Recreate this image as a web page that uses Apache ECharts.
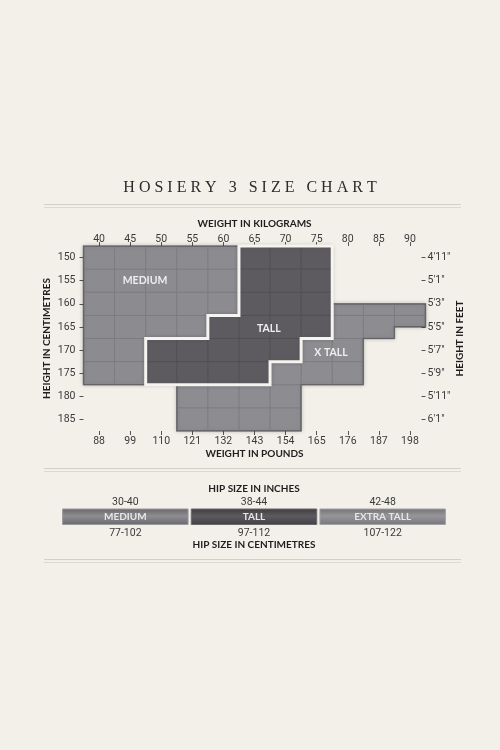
<!DOCTYPE html>
<html><head><meta charset="utf-8">
<script src="https://cdn.jsdelivr.net/npm/echarts@6/dist/echarts.min.js"></script>
<style>html,body{margin:0;padding:0;background:#f3f0ea;} #c{width:500px;height:750px;}</style>
</head><body><div id="c"></div>
<script>
// ---- data ----
const kgTicks = [40,45,50,55,60,65,70,75,80,85,90];
const lbTicks = ['88','99','110','121','132','143','154','165','176','187','198'];
const cmTicks = [150,155,160,165,170,175,180,185];
const ftTicks = ["4'11\"","5'1\"","5'3\"","5'5\"","5'7\"","5'9\"","5'11\"","6'1\""];
// size regions as stacked rows: [cmFrom, cmTo, kgFrom, kgTo]
const mediumRows = [[147.5,162.5,37.5,62.5],[162.5,167.5,37.5,57.5],[167.5,177.5,37.5,47.5]];
const tallRows   = [[147.5,162.5,62.5,77.5],[162.5,167.5,57.5,77.5],[167.5,172.5,47.5,72.5],[172.5,177.5,47.5,67.5]];
const xTallRows  = [[160,165,77.5,92.5],[165,167.5,77.5,87.5],[167.5,172.5,72.5,82.5],[172.5,177.5,67.5,82.5],[177.5,187.5,52.5,72.5]];
const sizeNames = ['MEDIUM','TALL','X TALL'];
const sizeLabelAt = [[47.4,155],[67.3,165.3],[77.3,170.6]]; // [kg, cm]
const hipSizes = ['MEDIUM','TALL','EXTRA TALL'];
const hipInches = ['30-40','38-44','42-48'];
const hipCm = ['77-102','97-112','107-122'];

// ---- styling ----
const shapes = [
  {rows: mediumRows, fill:'#8c8b8f', grid:'#7c7b7f', edge:'rgba(70,70,75,0.45)', white:false},
  {rows: tallRows,   fill:'#5d5b60', grid:'#514f54', edge:'rgba(40,40,45,0.5)', white:true},
  {rows: xTallRows,  fill:'#8d8c90', grid:'#7c7b7f', edge:'rgba(70,70,75,0.45)', white:false}
];
const gridStepsX = []; for (let v = 42.5; v < 92.5; v += 5) gridStepsX.push(v);
const gridStepsY = []; for (let v = 152.5; v < 187.5; v += 5) gridStepsY.push(v);

function rowsPolygon(rows){
  const pts=[];
  rows.forEach(r=>{pts.push([r[3],r[0]],[r[3],r[1]]);});
  for(let i=rows.length-1;i>=0;i--){const r=rows[i]; pts.push([r[2],r[1]],[r[2],r[0]]);}
  return pts;
}

const sansNum = "'Liberation Sans Narrow', 'Roboto', sans-serif";
const sansBold = "'Lato', 'Open Sans', sans-serif";

function renderShape(params, api){
  const idx = api.value(0);
  const s = shapes[idx];
  const poly = rowsPolygon(s.rows).map(p=>api.coord(p));
  const children = [];
  children.push({type:'polygon', shape:{points:poly}, style:{fill:s.fill, stroke:s.edge, lineWidth:1.5, shadowBlur:4, shadowColor:'rgba(0,0,0,0.22)'}});
  const seg = (a,b)=>{const p=api.coord(a), q=api.coord(b); children.push({type:'line', shape:{x1:p[0],y1:p[1],x2:q[0],y2:q[1]}, style:{stroke:s.grid, lineWidth:1}});};
  s.rows.forEach((r,i)=>{
    gridStepsX.forEach(x=>{ if(x>r[2]+0.01 && x<r[3]-0.01) seg([x,r[0]],[x,r[1]]); });
    gridStepsY.forEach(y=>{ if(y>r[0]+0.01 && y<r[1]-0.01) seg([r[2],y],[r[3],y]); });
    if(i<s.rows.length-1){
      const n=s.rows[i+1]; const y=r[1];
      if(gridStepsY.indexOf(y)>=0){ const a=Math.max(r[2],n[2]), b=Math.min(r[3],n[3]); if(b>a) seg([a,y],[b,y]); }
    }
  });
  children.push({type:'polygon', shape:{points:poly}, style:{fill:'none', stroke:s.edge, lineWidth:1.2}});
  if(s.white){
    children.push({type:'polygon', shape:{points:poly}, style:{fill:'none', stroke:'#f6f4f0', lineWidth:3}});
  }
  const lp = api.coord(sizeLabelAt[idx]);
  children.push({type:'text', style:{text:sizeNames[idx], x:lp[0], y:lp[1], align:'center', verticalAlign:'middle', fill:'#eeeeee', font:"bold 10.5px "+sansBold}});
  return {type:'group', children};
}

const axisLabelStyle = {color:'#3a3a3a', fontSize:10.5, fontFamily:sansNum};
const nameStyle = {color:'#1e1e1e', fontSize:10, fontWeight:'bold', fontFamily:sansBold};

const chart = echarts.init(document.getElementById('c'), null, {renderer:'canvas'});
chart.setOption({
  backgroundColor:'#f3f0ea',
  animation:false,
  title:{text:'H O S I E R Y   3   S I Z E   C H A R T', left:'center', top:175,
    textStyle:{fontFamily:"'Liberation Serif', 'DejaVu Serif', serif", fontSize:16, fontWeight:'normal', color:'#2b2b2b'}},
  graphic:[
    {type:'line', shape:{x1:44,y1:204.5,x2:461,y2:204.5}, style:{stroke:'#d4d0c9', lineWidth:1}},
    {type:'line', shape:{x1:44,y1:207.5,x2:461,y2:207.5}, style:{stroke:'#dcd9d3', lineWidth:1}},
    {type:'line', shape:{x1:44,y1:468.5,x2:461,y2:468.5}, style:{stroke:'#d4d0c9', lineWidth:1}},
    {type:'line', shape:{x1:44,y1:471.5,x2:461,y2:471.5}, style:{stroke:'#dcd9d3', lineWidth:1}},
    {type:'line', shape:{x1:44,y1:559.5,x2:461,y2:559.5}, style:{stroke:'#d4d0c9', lineWidth:1}},
    {type:'line', shape:{x1:44,y1:562.5,x2:461,y2:562.5}, style:{stroke:'#dcd9d3', lineWidth:1}}
  ],
  grid:[
    {left:83.5, top:246, width:342, height:185},
    {left:61, top:508.5, width:386, height:16.5}
  ],
  xAxis:[
    {gridIndex:0, type:'value', position:'top', min:37.5, max:92.5,
     name:'WEIGHT IN KILOGRAMS', nameLocation:'middle', nameGap:17, nameTextStyle:nameStyle,
     axisLine:{show:false}, splitLine:{show:false},
     axisTick:{show:true, length:4, customValues:kgTicks, lineStyle:{color:'#555'}},
     axisLabel:Object.assign({customValues:kgTicks, margin:1}, axisLabelStyle)},
    {gridIndex:0, type:'value', position:'bottom', min:37.5, max:92.5,
     name:'WEIGHT IN POUNDS', nameLocation:'middle', nameGap:18, nameTextStyle:nameStyle,
     axisLine:{show:false}, splitLine:{show:false},
     axisTick:{show:true, length:4, customValues:kgTicks, lineStyle:{color:'#555'}},
     axisLabel:Object.assign({customValues:kgTicks, margin:5, formatter:v=>lbTicks[kgTicks.indexOf(v)]}, axisLabelStyle)},
    {gridIndex:1, type:'category', position:'top', data:hipSizes,
     name:'HIP SIZE IN INCHES', nameLocation:'middle', nameGap:15, nameTextStyle:nameStyle,
     axisLine:{show:false}, axisTick:{show:false},
     axisLabel:Object.assign({margin:1, formatter:(v,i)=>hipInches[i]}, axisLabelStyle)},
    {gridIndex:1, type:'category', position:'bottom', data:hipSizes,
     name:'HIP SIZE IN CENTIMETRES', nameLocation:'middle', nameGap:14, nameTextStyle:nameStyle,
     axisLine:{show:false}, axisTick:{show:false},
     axisLabel:Object.assign({margin:3, formatter:(v,i)=>hipCm[i]}, axisLabelStyle)}
  ],
  yAxis:[
    {gridIndex:0, type:'value', position:'left', min:147.5, max:187.5, inverse:true,
     name:'HEIGHT IN CENTIMETRES', nameLocation:'middle', nameGap:32, nameRotate:90, nameMoveOverlap:false, nameTextStyle:nameStyle,
     axisLine:{show:false}, splitLine:{show:false},
     axisTick:{show:true, length:4, customValues:cmTicks, lineStyle:{color:'#555'}},
     axisLabel:Object.assign({customValues:cmTicks, margin:8}, axisLabelStyle)},
    {gridIndex:0, type:'value', position:'right', min:147.5, max:187.5, inverse:true,
     name:'HEIGHT IN FEET', nameLocation:'middle', nameGap:29.5, nameRotate:90, nameMoveOverlap:false, nameTextStyle:nameStyle,
     axisLine:{show:false}, splitLine:{show:false},
     axisTick:{show:true, inside:true, length:4, customValues:cmTicks, lineStyle:{color:'#555'}},
     axisLabel:Object.assign({customValues:cmTicks, margin:2, formatter:v=>ftTicks[cmTicks.indexOf(v)]}, axisLabelStyle)},
    {gridIndex:1, type:'value', min:0, max:1, show:false}
  ],
  series:[
    {type:'custom', xAxisIndex:0, yAxisIndex:0, renderItem:renderShape, data:[[0],[2],[1]], clip:false, silent:true},
    {type:'bar', xAxisIndex:2, yAxisIndex:2, barWidth:126.5,
     data:hipSizes.map((n,i)=>({value:1, itemStyle:{color:new echarts.graphic.LinearGradient(0,0,0,1,[
        {offset:0,color:['#66656a','#3d3b40','#727175'][i]},
        {offset:0.45,color:['#8e8d91','#5d5b60','#97969a'][i]},
        {offset:1,color:['#69686c','#424045','#76757a'][i]}]),
        borderColor:['#9a999d','#6a686d','#a3a2a6'][i], borderWidth:1}})),
     label:{show:true, position:'inside', formatter:'{b}', color:'#e6e6e6', fontSize:10, fontWeight:'bold', fontFamily:sansBold},
     silent:true}
  ]
});
</script></body></html>
